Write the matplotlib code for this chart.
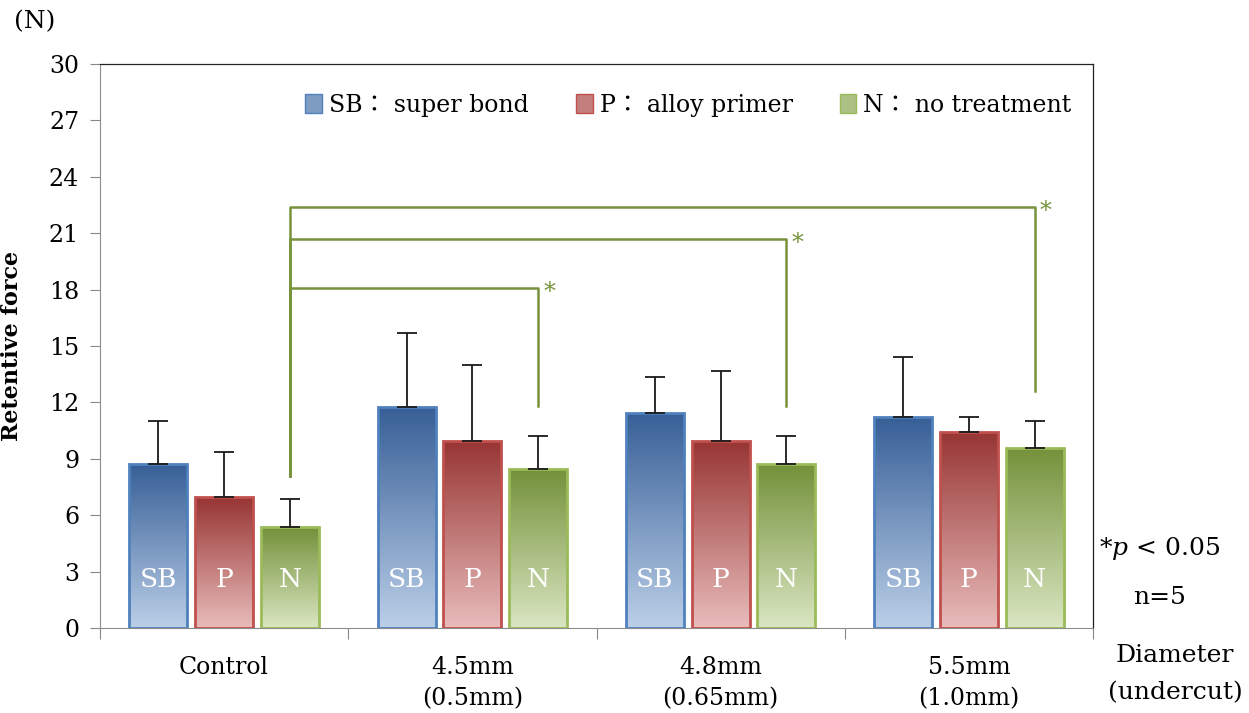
import matplotlib.pyplot as plt
import numpy as np
from matplotlib.colors import LinearSegmentedColormap

plt.rcParams['font.family'] = ['DejaVu Serif', 'Noto Sans CJK JP']
plt.rcParams['mathtext.fontset'] = 'dejavuserif'

# retentive force (N), mean and SD, n=5
groups = ['Control', '4.5mm\n(0.5mm)', '4.8mm\n(0.65mm)', '5.5mm\n(1.0mm)']
sb_mean = [8.7, 11.75, 11.45, 11.2]
p_mean = [6.95, 9.95, 9.95, 10.45]
n_mean = [5.35, 8.45, 8.7, 9.6]
sb_sd = [2.3, 3.95, 1.9, 3.2]
p_sd = [2.4, 4.05, 3.7, 0.8]
n_sd = [1.5, 1.75, 1.5, 1.4]
series_tags = ['SB', 'P', 'N']
legend_labels = ['SB\uff1a super bond', 'P\uff1a alloy primer', 'N\uff1a no treatment']

# significance brackets: Control N vs. each N, bracket height
sig_targets = [1, 2, 3]
sig_heights = [18.1, 20.7, 22.4]
sig_drop = [11.8, 11.8, 12.6]
sig_start = 8.1

# (edge, top of gradient, bottom of gradient)
styles = [('#4F81BD', '#375F97', '#BBCFE8'),
          ('#C0504D', '#973533', '#E8BCBB'),
          ('#9BBB59', '#74913A', '#DAE6C2')]
sig_color = '#77933C'

fig = plt.figure(figsize=(12.49, 7.13), dpi=100)
ax = fig.add_axes([100 / 1249, 85 / 713, 993 / 1249, 564 / 713])

x = np.arange(len(groups))
step = 0.265
width = 0.233
means = [sb_mean, p_mean, n_mean]
sds = [sb_sd, p_sd, n_sd]

grad = np.linspace(1, 0, 256).reshape(-1, 1)
for k in range(3):
    edge, top, bottom = styles[k]
    cmap = LinearSegmentedColormap.from_list('g%d' % k, [bottom, top])
    xs = x + (k - 1) * step
    bars = ax.bar(xs, means[k], width, facecolor='none', edgecolor=edge,
                  linewidth=2, zorder=3)
    for b, xc, h in zip(bars, xs, means[k]):
        im = ax.imshow(grad, cmap=cmap, aspect='auto', zorder=2,
                       extent=[xc - width / 2, xc + width / 2, 0, h], vmin=0, vmax=1)
        im.set_clip_path(b)
        ax.text(xc, 2.6, series_tags[k], color='white', fontsize=19,
                ha='center', va='center', zorder=4)
    ax.errorbar(xs, means[k], yerr=[np.zeros(len(groups)), sds[k]], fmt='none',
                ecolor='#1a1a1a', elinewidth=1.3, capsize=7, capthick=1.3, zorder=4)
    ax.bar([0], [0], width, color=cmap(0.45), edgecolor=edge, label=legend_labels[k])

# brackets
x0 = x[0] + step
for t, h, d in zip(sig_targets, sig_heights, sig_drop):
    xt = x[t] + step
    ax.plot([x0, x0, xt, xt], [sig_start, h, h, d], color=sig_color, lw=1.8, zorder=5)
    ax.text(xt + 0.045, h - 0.25, '*', color=sig_color, fontsize=17,
            ha='center', va='center')

ax.set_xlim(-0.5, 3.5)
ax.set_ylim(0, 30)
ax.set_yticks(np.arange(0, 31, 3))
ax.set_xticks(np.arange(-0.5, 4, 1))
ax.set_xticklabels([])
ax.set_xticks(x, minor=True)
ax.set_xticklabels(groups, minor=True, fontsize=17, linespacing=1.45)
ax.tick_params(axis='x', which='minor', length=0, pad=20)
ax.tick_params(axis='x', which='major', length=8, direction='out', color='#888888')
ax.tick_params(axis='y', length=7, direction='out', color='#888888', labelsize=17, pad=8)
for s in ['left', 'bottom']:
    ax.spines[s].set_color('#8c8c8c')
for s in ['top', 'right']:
    ax.spines[s].set_color('#222222')
    ax.spines[s].set_linewidth(0.9)

ax.set_ylabel('Retentive force', fontsize=16, fontweight='bold')
ax.yaxis.set_label_coords(-0.078, 0.5)
fig.text(35 / 1249, 1 - 22 / 713, '(N)', fontsize=18, ha='center', va='center')

leg = ax.legend(loc='upper right', bbox_to_anchor=(1.0, 0.985), ncol=3, frameon=False,
                fontsize=17, handlelength=0.7, handleheight=0.9, handletextpad=0.3,
                columnspacing=2.0)

fig.text(1160 / 1249, 1 - 548 / 713, r'*$p$ < 0.05', fontsize=18, ha='center', va='center')
fig.text(1160 / 1249, 1 - 597 / 713, 'n=5', fontsize=18, ha='center', va='center')
fig.text(1175 / 1249, 1 - 655 / 713, 'Diameter', fontsize=18, ha='center', va='center')
fig.text(1175 / 1249, 1 - 693 / 713, '(undercut)', fontsize=18, ha='center', va='center')

fig.savefig('out.png', dpi=100)
